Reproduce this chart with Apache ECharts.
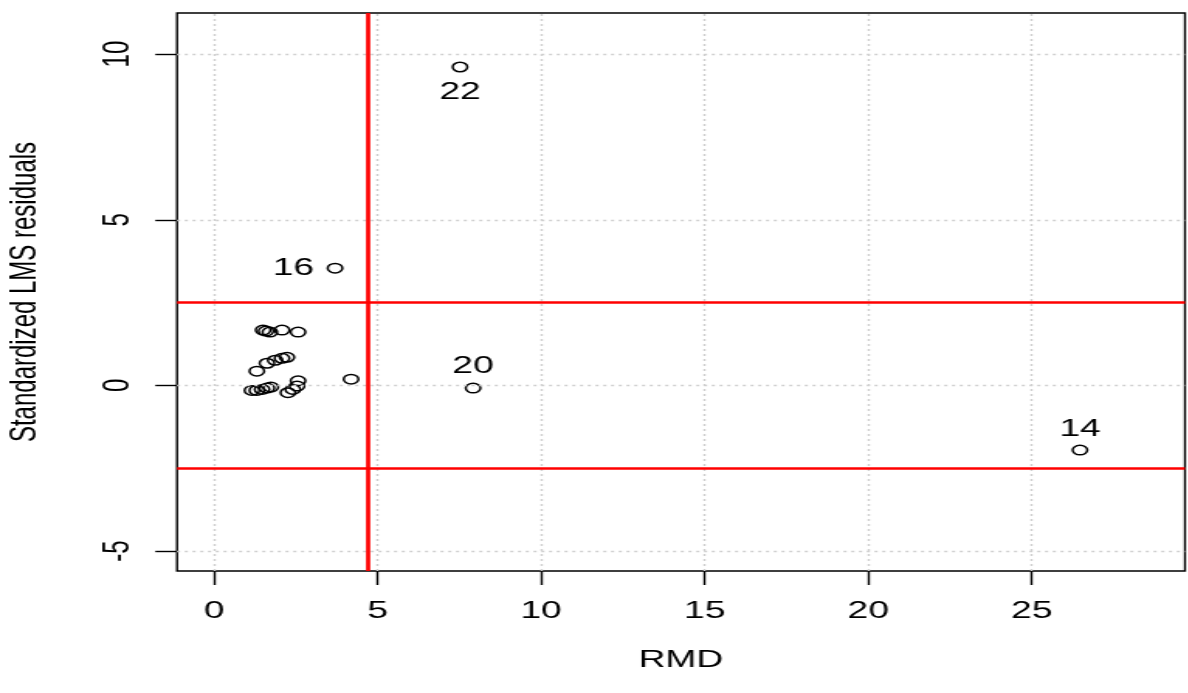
<!DOCTYPE html>
<html>
<head>
<meta charset="utf-8">
<script src="https://cdn.jsdelivr.net/npm/echarts@6/dist/echarts.min.js"></script>
<style>
  html, body { margin: 0; padding: 0; background: #fff; overflow: hidden; }
  #wrap { width: 1188px; height: 693px; overflow: hidden; }
  /* the plot is drawn on a narrower canvas and widened, like a device with non-square pixels */
  #chart { height: 693px; transform-origin: 0 0; }
</style>
</head>
<body>
<div id="wrap"><div id="chart"></div></div>
<script>
// Robust distances (RMD) against standardized LMS residuals
const rmd = [1.16, 1.31, 1.47, 1.62, 1.74, 2.26, 2.41, 2.54, 2.57,
             1.31, 1.62, 1.87, 2.08, 2.23,
             1.50, 1.59, 1.71, 2.08, 2.57,
             4.19, 3.70, 7.52, 7.92, 26.47];
const resid = [-0.15, -0.15, -0.12, -0.08, -0.05, -0.22, -0.12, -0.02, 0.14,
               0.43, 0.67, 0.76, 0.82, 0.85,
               1.67, 1.64, 1.61, 1.67, 1.61,
               0.19, 3.54, 9.61, -0.08, -1.95];
const pointLabels = ['', '', '', '', '', '', '', '', '',
                     '', '', '', '', '',
                     '', '', '', '', '',
                     '', '16', '22', '20', '14'];

const xTicks = [0, 5, 10, 15, 20, 25];
const yTicks = [-5, 0, 5, 10];
const xRange = [-1.13, 29.68];
const yRange = [-5.60, 11.24];

// cut-offs: chi-square based distance and +/- 2.5 residual band
const distCut = 4.68;
const residCut = [2.5, -2.5];

const stretch = 1.55;
const W = 1188 / stretch;
const el = document.getElementById('chart');
el.style.width = W + 'px';
el.style.transform = 'scaleX(' + stretch + ')';

const font = 'Liberation Sans, Arial, Helvetica, sans-serif';
const labelPlace = {
  '16': { position: 'left', distance: 8 },
  '22': { position: 'bottom', distance: 8 },
  '20': { position: 'top', distance: 4 },
  '14': { position: 'top', distance: 3 }
};

const pts = rmd.map((x, i) => {
  const item = { value: [x, resid[i]] };
  if (pointLabels[i]) {
    item.label = Object.assign({ show: true, formatter: pointLabels[i] }, labelPlace[pointLabels[i]]);
  }
  return item;
});

const grid = '#cfcfcf';
const chart = echarts.init(el, null, { renderer: 'canvas', width: W, height: 693 });
chart.setOption({
  animation: false,
  backgroundColor: '#fff',
  textStyle: { fontFamily: font },
  grid: {
    show: true, left: 114.2, right: 1.95, top: 13, bottom: 122,
    containLabel: false, outerBoundsMode: 'none',
    borderColor: '#000', borderWidth: 1.4, backgroundColor: 'transparent'
  },
  xAxis: {
    type: 'value', min: xRange[0], max: xRange[1],
    name: 'RMD', nameLocation: 'middle', nameGap: 77,
    nameTextStyle: { fontSize: 24, color: '#000', fontFamily: font },
    axisLine: { show: false, onZero: false },
    axisTick: { show: true, length: 14, customValues: xTicks, lineStyle: { color: '#000', width: 1.4 } },
    axisLabel: { customValues: xTicks, fontSize: 24, color: '#000', margin: 28, fontFamily: font },
    splitLine: { show: false }
  },
  yAxis: {
    type: 'value', min: yRange[0], max: yRange[1],
    name: 'Standardized LMS residuals', nameLocation: 'middle', nameRotate: 90, nameGap: 86,
    nameTextStyle: { fontSize: 24, color: '#000', fontFamily: font },
    axisLine: { show: false, onZero: false },
    axisTick: { show: true, length: 14, customValues: yTicks, lineStyle: { color: '#000', width: 1.4 } },
    axisLabel: { customValues: yTicks, rotate: 90, fontSize: 24, color: '#000', margin: 26, fontFamily: font },
    splitLine: { show: false }
  },
  series: [
    {
      // light dotted reference grid at the tick positions
      type: 'scatter', data: [], silent: true, z: 1,
      markLine: {
        silent: true, symbol: 'none', animation: false,
        label: { show: false },
        lineStyle: { color: grid, type: [2, 3], width: 1.4 },
        data: xTicks.map(v => ({ xAxis: v })).concat(yTicks.map(v => ({ yAxis: v })))
      }
    },
    {
      type: 'scatter', z: 3,
      symbol: 'circle', symbolSize: 9.5,
      itemStyle: { color: 'rgba(0,0,0,0)', borderColor: '#000', borderWidth: 1.5, opacity: 1 },
      label: { color: '#000', fontSize: 24, fontFamily: font },
      data: pts
    },
    {
      type: 'scatter', data: [], silent: true, z: 4,
      markLine: {
        silent: true, symbol: 'none', animation: false,
        label: { show: false },
        lineStyle: { color: '#ff0000', type: 'solid', width: 2.7 },
        data: [{ xAxis: distCut }].concat(residCut.map(v => ({ yAxis: v })))
      }
    }
  ]
});
</script>
</body>
</html>
